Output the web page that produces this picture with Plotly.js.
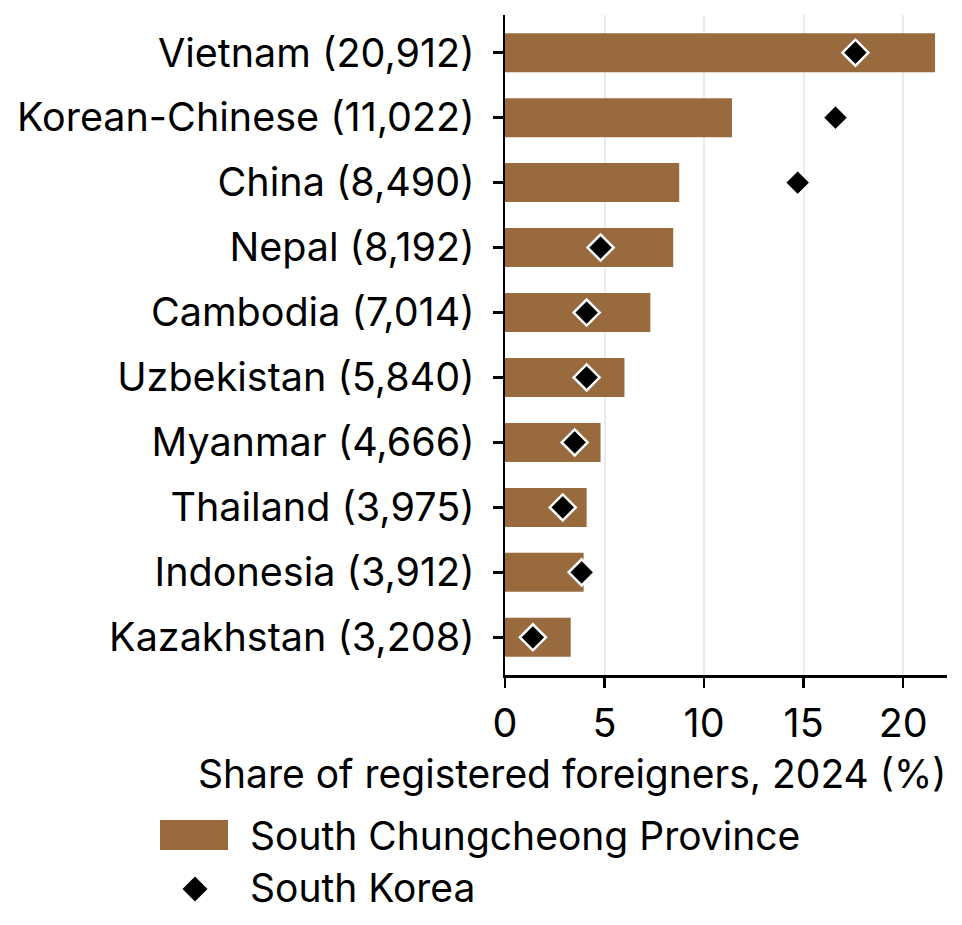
<!DOCTYPE html>
<html>
<head>
<meta charset="utf-8">
<script src="https://cdn.plot.ly/plotly-3.0.1.min.js"></script>
<style>html,body{margin:0;padding:0;background:#fff;}#chart{width:962px;height:925px;}</style>
</head>
<body>
<div id="chart"></div>
<script>
const categories = ["Vietnam (20,912)", "Korean-Chinese (11,022)", "China (8,490)", "Nepal (8,192)", "Cambodia (7,014)", "Uzbekistan (5,840)", "Myanmar (4,666)", "Thailand (3,975)", "Indonesia (3,912)", "Kazakhstan (3,208)"];
const provinceShare = [21.6, 11.4, 8.75, 8.45, 7.3, 6.0, 4.8, 4.1, 3.95, 3.3];
const nationalShare = [17.6, 16.6, 14.7, 4.8, 4.1, 4.1, 3.5, 2.9, 3.85, 1.4];
const xTicks = [0, 5, 10, 15, 20];
const seriesNames = ["South Chungcheong Province", "South Korea"];

const barColor = "#996a3e";
const FONT = "Inter, 'Noto Sans', sans-serif";
const FS = 39.5;
const FS2 = 39;

const traces = [
  {
    type: "bar", orientation: "h", name: seriesNames[0],
    y: categories, x: provinceShare, width: 0.6,
    marker: {color: barColor}, showlegend: false, hoverinfo: "x+y"
  },
  {
    type: "scatter", mode: "markers", name: seriesNames[1],
    y: categories, x: nationalShare,
    marker: {symbol: "diamond", size: 20, color: "#000", line: {color: "#fff", width: 2.5}},
    showlegend: false, cliponaxis: false
  }
];

const W = 442, H = 660;
const px = v => (v - 505) / W;
const py = v => (675 - v) / H;

const layout = {
  width: 962, height: 925,
  margin: {l: 505, r: 15, t: 15, b: 250},
  paper_bgcolor: "#fff", plot_bgcolor: "#fff",
  font: {family: FONT, color: "#000", size: FS},
  xaxis: {
    range: [0, 22.2], tickvals: xTicks, ticktext: xTicks.map(String),
    showgrid: true, gridcolor: "#ebebeb", gridwidth: 2, zeroline: false,
    showline: true, linecolor: "#000", linewidth: 2.5,
    ticks: "outside", ticklen: 10, tickwidth: 2.5, tickcolor: "#000",
    tickfont: {size: FS, family: FONT, color: "#000"}, ticklabelstandoff: 2,
    fixedrange: true
  },
  yaxis: {
    type: "category", categoryorder: "array", categoryarray: categories,
    range: [9.58, -0.58],
    showgrid: false, zeroline: false,
    showline: true, linecolor: "#000", linewidth: 2.5,
    ticks: "outside", ticklen: 10, tickwidth: 2.5, tickcolor: "#000",
    tickfont: {size: FS, family: FONT, color: "#000"}, ticklabelstandoff: 10,
    fixedrange: true
  },
  shapes: [
    {type: "rect", xref: "paper", yref: "paper", x0: px(160), x1: px(228), y0: py(850), y1: py(820),
     fillcolor: barColor, line: {width: 0}},
    {type: "path", xref: "paper", yref: "paper", xsizemode: "pixel", ysizemode: "pixel",
     xanchor: px(195), yanchor: py(889), path: "M0,12.5 L12.5,0 L0,-12.5 L-12.5,0 Z",
     fillcolor: "#000", line: {width: 0}}
  ],
  annotations: [
    {text: "Share of registered foreigners, 2024 (%)", xref: "paper", yref: "paper",
     x: 1, y: py(773), xanchor: "right", yanchor: "middle", showarrow: false, xshift: 2,
     font: {size: FS2, family: FONT, color: "#000"}},
    {text: seriesNames[0], xref: "paper", yref: "paper", x: px(248), y: py(835),
     xanchor: "left", yanchor: "middle", showarrow: false, font: {size: FS2, family: FONT, color: "#000"}},
    {text: seriesNames[1], xref: "paper", yref: "paper", x: px(248), y: py(887),
     xanchor: "left", yanchor: "middle", showarrow: false, font: {size: FS2, family: FONT, color: "#000"}}
  ],
  showlegend: false,
  bargap: 0.4
};

Plotly.newPlot("chart", traces, layout, {displayModeBar: false, staticPlot: true});
</script>
</body>
</html>
